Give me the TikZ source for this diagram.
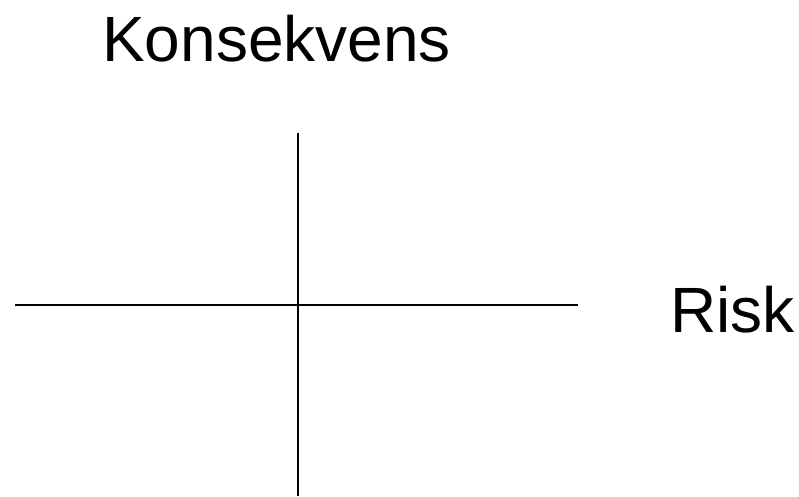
\documentclass[tikz,border=0pt]{standalone}
\usepackage{fontspec}
\setmainfont{Liberation Sans}
\begin{document}
\begin{tikzpicture}[x=1pt,y=1pt,
  axis/.style={line width=1.8pt,black},
  lbl/.style={inner sep=0pt,anchor=base west,font=\fontsize{64}{76}\selectfont}]
\useasboundingbox (0,0) rectangle (799,496);
\coordinate (vtop) at (297.7,363);
\coordinate (vbot) at (297.7,0);
\coordinate (hl) at (15,190.7);
\coordinate (hr) at (577.7,190.7);
\draw[axis] (vtop) -- (vbot);
\draw[axis] (hl) -- (hr);
\node[lbl] (kons) at (102,434) {Konsekvens};
\node[lbl] (risk) at (670,164) {Risk};
\end{tikzpicture}
\end{document}
